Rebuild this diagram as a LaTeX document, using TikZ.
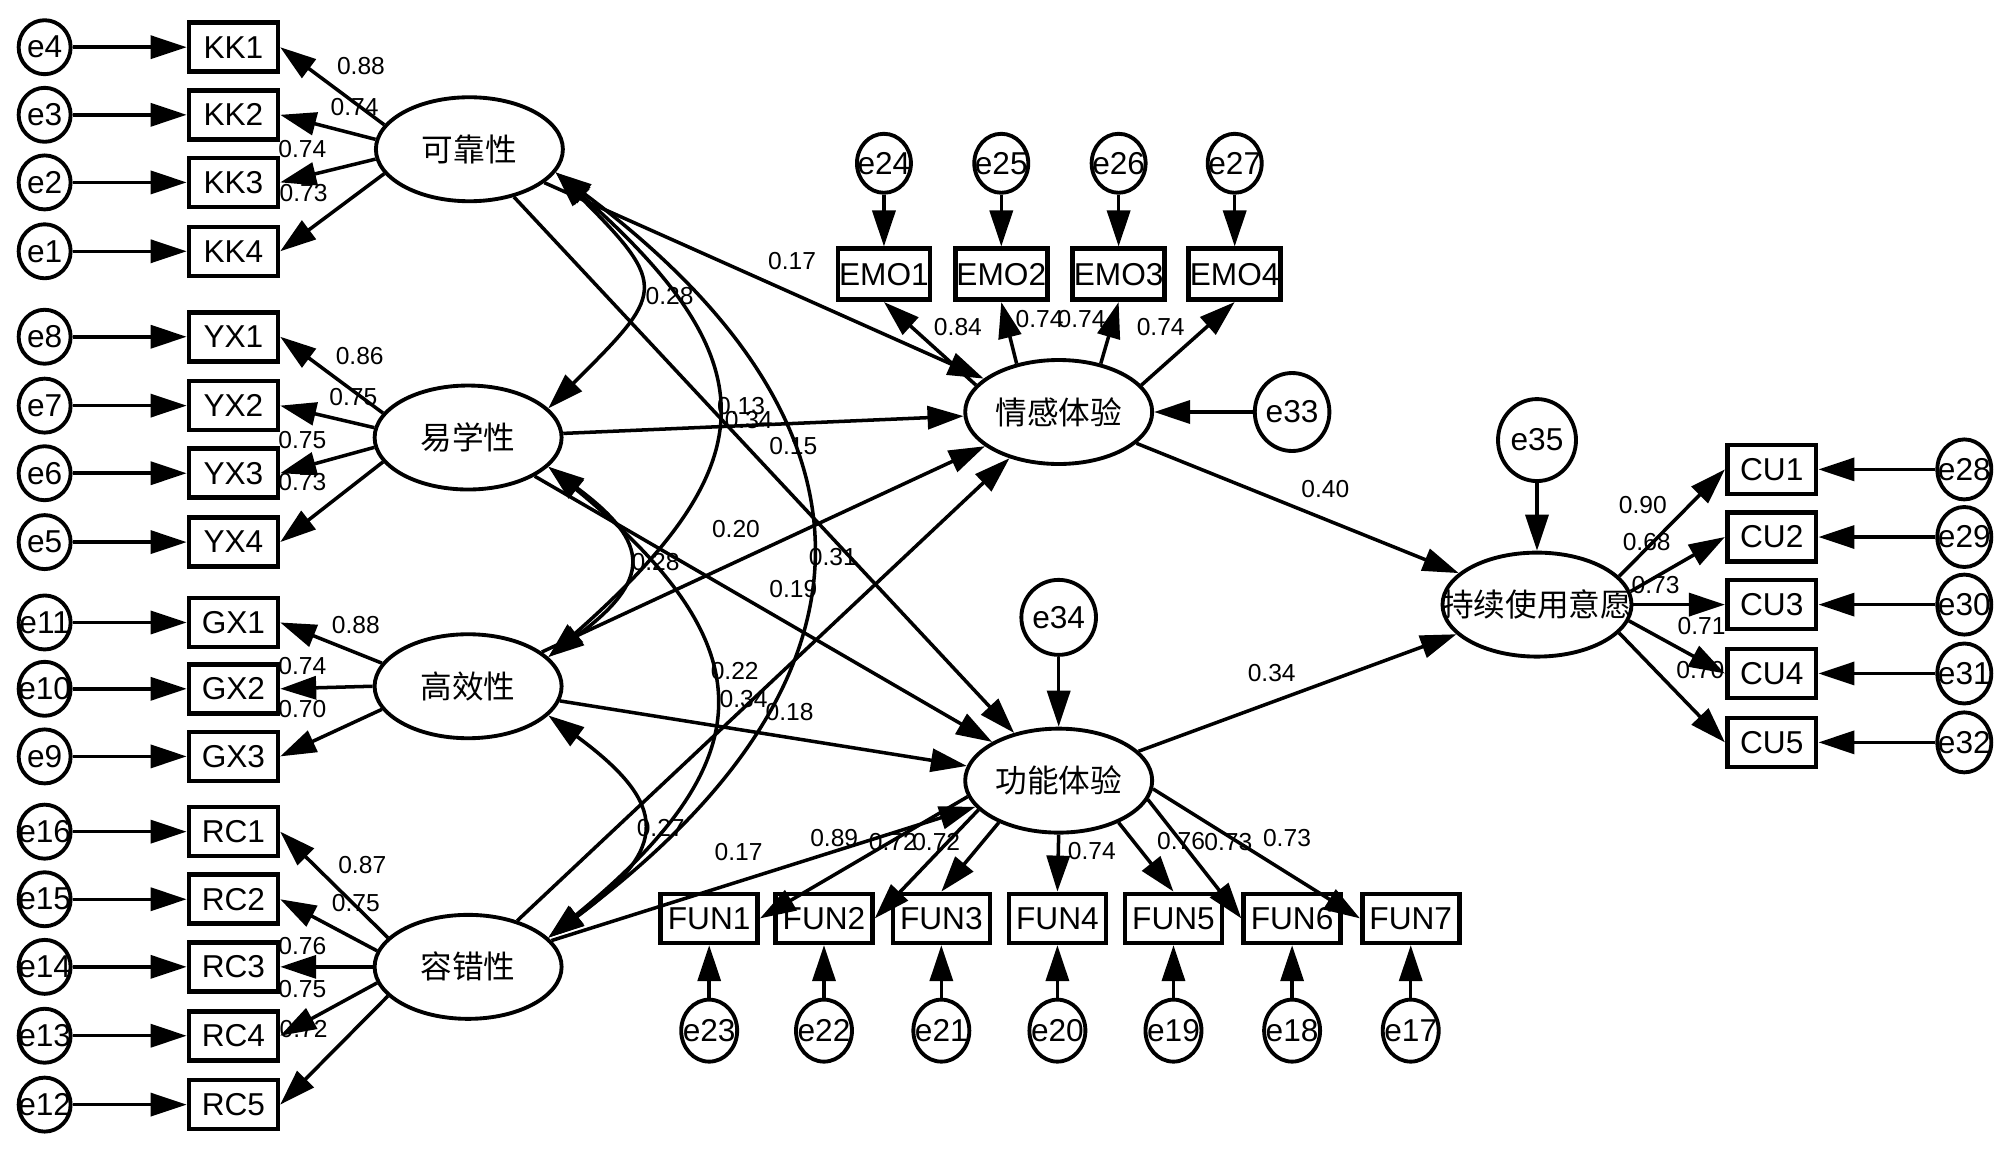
\documentclass[tikz,border=0pt]{standalone}
\usepackage{fontspec}
\setmainfont{Liberation Sans}
\newfontfamily\cjk{Noto Sans CJK SC}
\usetikzlibrary{arrows.meta,shapes.geometric}

\begin{document}
\begin{tikzpicture}[
    x=0.012755cm, y=-0.012755cm,
    line width=1pt,
    >={Triangle[length=3.6mm,width=2.3mm]},
    ind/.style={draw,line width=1.3pt,inner sep=0pt,minimum width=0.89cm,minimum height=0.49cm,font=\fontsize{9}{10}\selectfont},
    err/.style={draw,ellipse,line width=1.1pt,inner sep=0pt,minimum width=0.52cm,minimum height=0.54cm,font=\fontsize{9}{10}\selectfont},
    lat/.style={draw,ellipse,line width=1.1pt,inner sep=0pt,minimum width=1.87cm,minimum height=1.04cm,font=\cjk\fontsize{9}{10}\selectfont},
    lbl/.style={inner sep=0pt,font=\fontsize{7}{8}\selectfont},
  ]

  \path[use as bounding box,fill=white] (0,0) rectangle (1568,904);

  % latent variables
  \node (kk) at (368,117) [lat] {可靠性};
  \node (yx) at (367,343) [lat] {易学性};
  \node (gx) at (367,538) [lat] {高效性};
  \node (rc) at (367,758) [lat] {容错性};
  \node (emo) at (830,323) [lat] {情感体验};
  \node (fun) at (830,612) [lat] {功能体验};
  \node (cu) at (1205,474) [lat,minimum width=1.89cm] {\makebox[0pt]{持续使用意愿}};

  % left indicators with their errors
  \foreach \i/\y/\e in {1/37/4,2/90/3,3/143/2,4/197/1}
  {
    \node (kk\i) at (183,\y) [ind] {KK\i};
    \node (e\e) at (35,\y) [err] {\makebox[0pt]{e\e}};
    \draw[->] (e\e) -- (kk\i);
  }
  \foreach \i/\y/\e in {1/264/8,2/318/7,3/371/6,4/425/5}
  {
    \node (yx\i) at (183,\y) [ind] {YX\i};
    \node (e\e) at (35,\y) [err] {\makebox[0pt]{e\e}};
    \draw[->] (e\e) -- (yx\i);
  }
  \foreach \i/\y/\e in {1/488/11,2/540/10,3/593/9}
  {
    \node (gx\i) at (183,\y) [ind] {GX\i};
    \node (e\e) at (35,\y) [err] {\makebox[0pt]{e\e}};
    \draw[->] (e\e) -- (gx\i);
  }
  \foreach \i/\y/\e in {1/652/16,2/705/15,3/758/14,4/812/13,5/866/12}
  {
    \node (rc\i) at (183,\y) [ind] {RC\i};
    \node (e\e) at (35,\y) [err] {\makebox[0pt]{e\e}};
    \draw[->] (e\e) -- (rc\i);
  }

  % emotional experience indicators
  \foreach \i/\x/\e in {1/693/24,2/785/25,3/877/26,4/968/27}
  {
    \node (emo\i) at (\x,215) [ind,minimum width=0.92cm,minimum height=0.51cm] {EMO\i};
    \node (e\e) at (\x,128) [err,minimum width=0.54cm,minimum height=0.59cm] {\makebox[0pt]{e\e}};
    \draw[->] (e\e) -- (emo\i);
  }

  % functional experience indicators
  \foreach \i/\x/\e in {1/556/23,2/646/22,3/738/21,4/829/20,5/920/19,6/1013/18,7/1106/17}
  {
    \node (fun\i) at (\x,720) [ind,minimum width=0.97cm] {FUN\i};
    \node (e\e) at (\x,808) [err,minimum width=0.56cm,minimum height=0.62cm] {\makebox[0pt]{e\e}};
    \draw[->] (e\e) -- (fun\i);
  }

  % continuance intention indicators
  \foreach \i/\y/\e in {1/368/28,2/421/29,3/474/30,4/528/31,5/582/32}
  {
    \node (cu\i) at (1389,\y) [ind] {CU\i};
    \node (e\e) at (1540,\y) [err,minimum width=0.54cm,minimum height=0.6cm] {\makebox[0pt]{e\e}};
    \draw[->] (e\e) -- (cu\i);
  }

  % disturbances
  \node (e33) at (1013,323) [err,minimum width=0.74cm,minimum height=0.78cm] {e33};
  \node (e34) at (830,484) [err,minimum width=0.72cm,minimum height=0.75cm] {e34};
  \node (e35) at (1205,345) [err,minimum width=0.78cm,minimum height=0.82cm] {e35};
  \draw[->] (e33) -- (emo);
  \draw[->] (e34) -- (fun);
  \draw[->] (e35) -- (cu);

  % loadings
  \foreach \i/\a in {1/164,2/174,3/186,4/196}
  {
    \draw[->] (kk.\a) -- (kk\i.east);
    \draw[->] (yx.\a) -- (yx\i.east);
  }
  \foreach \i/\a in {1/165,2/180,3/195}
    \draw[->] (gx.\a) -- (gx\i.east);
  \foreach \i/\a in {1/160,2/170,3/180,4/190,5/200}
    \draw[->] (rc.\a) -- (rc\i.east);
  \foreach \i/\a in {1/162,2/131,3/49,4/18}
    \draw[->] (emo.\a) -- (emo\i.south);
  \foreach \i/\a/\s in {1/190/east,2/200/east,3/215/north,4/270/north,5/325/north,6/348/west,7/355/west}
    \draw[->] (fun.\a) -- (fun\i.\s);
  \foreach \i/\a in {1/19,2/8,3/0,4/-10,5/-19}
    \draw[->] (cu.\a) -- (cu\i.west);

  % structural paths
  \foreach \s in {kk,yx,gx,rc}
  {
    \draw[->] (\s) -- (emo);
    \draw[->] (\s) -- (fun);
  }
  \draw[->] (emo) -- (cu);
  \draw[->] (fun) -- (cu);

  % covariances
  \draw[<->] (kk.-15) .. controls +(90,90) and +(90,-90) .. (yx.20);
  \draw[<->] (kk.-15) .. controls +(170,150) and +(170,-150) .. (gx.20);
  \draw[<->] (kk.-15) .. controls +(268,200) and +(268,-200) .. (rc.20);
  \draw[<->] (yx.-20) .. controls +(81,60) and +(81,-60) .. (gx.20);
  \draw[<->] (yx.-20) .. controls +(171,140) and +(171,-140) .. (rc.20);
  \draw[<->] (gx.-20) .. controls +(95,70) and +(95,-70) .. (rc.20);

  % estimates
  \foreach \x/\y/\txt [count=\n] in {
    283/52/0.88, 278/84/0.74, 237/117/0.74, 238/151/0.73,
    282/279/0.86, 277/311/0.75, 237/345/0.75, 237/378/0.73,
    279/490/0.88, 237/522/0.74, 237/556/0.70,
    284/678/0.87, 279/708/0.75, 237/742/0.76, 237/775/0.75, 238/807/0.72,
    621/205/0.17, 525/232/0.28, 581/318/0.13, 587/329/0.34, 622/350/0.15,
    577/415/0.20, 514/441/0.28, 653/437/0.31, 622/462/0.19,
    576/526/0.22, 583/548/0.34, 619/558/0.18,
    518/649/0.27, 579/668/0.17,
    751/256/0.84, 815/250/0.74, 848/250/0.74, 910/256/0.74,
    1039/383/0.40, 997/528/0.34,
    654/657/0.89, 700/660/0.72, 734/660/0.72, 856/667/0.74, 926/659/0.76, 963/660/0.73, 1009/657/0.73,
    1288/396/0.90, 1291/425/0.68, 1298/459/0.73, 1334/491/0.71, 1333/525/0.70}
  {
    \node (lb-\n) at (\x,\y) [lbl] {\txt};
  }

\end{tikzpicture}
\end{document}
